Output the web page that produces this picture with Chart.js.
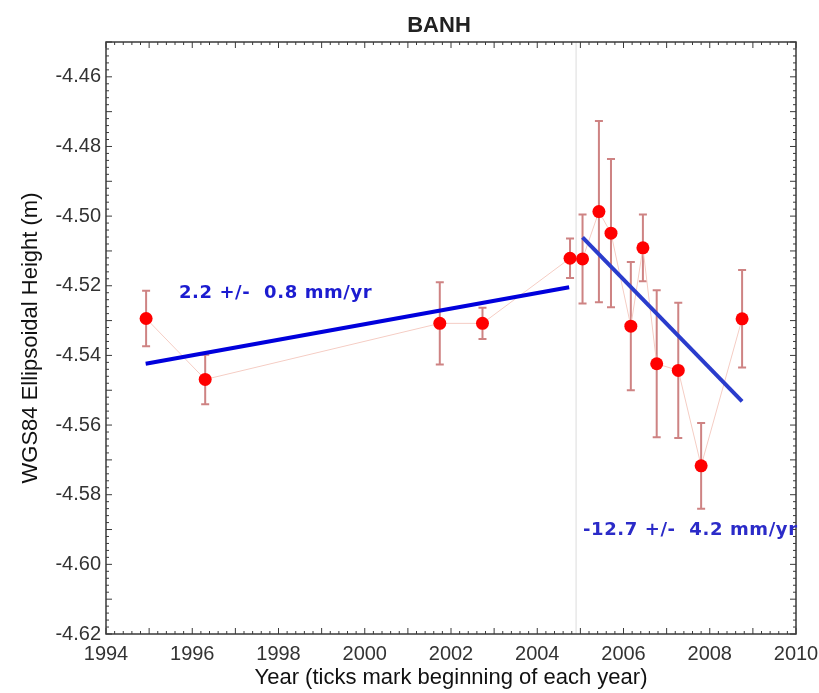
<!DOCTYPE html>
<html>
<head>
<meta charset="utf-8">
<script src="https://cdn.jsdelivr.net/npm/chart.js@4/dist/chart.umd.min.js"></script>
<style>
  body { margin: 0; background: #fff; }
  #wrap { width: 819px; height: 693px; }
</style>
</head>
<body>
<div id="wrap"><canvas id="c"></canvas></div>
<script>
// GPS station BANH, ellipsoidal height time series
var years   = [1994.93, 1996.30, 2001.74, 2002.73, 2004.76, 2005.05, 2005.43, 2005.71, 2006.17, 2006.45, 2006.77, 2007.27, 2007.80, 2008.75];
var heights = [-4.5294, -4.5469, -4.5308, -4.5308, -4.5121, -4.5123, -4.4987, -4.5049, -4.5316, -4.5091, -4.5424, -4.5443, -4.5717, -4.5295];
var errors  = [0.0080, 0.0071, 0.0118, 0.0045, 0.0057, 0.0128, 0.0260, 0.0213, 0.0184, 0.0096, 0.0211, 0.0194, 0.0123, 0.0140];

// fitted velocities before / after the break
var trend1Years = [1994.92, 2004.74];
var trend1Heights = [-4.5424, -4.5204];
var trend2Years = [2005.05, 2008.75];
var trend2Heights = [-4.5061, -4.5532];
var breakYear = 2004.90;

var rate1Label = '2.2 +/-  0.8 mm/yr';
var rate1Pos = [1995.69, -4.5222];
var rate2Label = '-12.7 +/-  4.2 mm/yr';
var rate2Pos = [2005.06, -4.5902];

var xTicks = [1994, 1996, 1998, 2000, 2002, 2004, 2006, 2008, 2010];
var yTicks = [-4.62, -4.60, -4.58, -4.56, -4.54, -4.52, -4.50, -4.48, -4.46];

var FONT = 'Liberation Sans, Arial, sans-serif';

function pts(xs, ys) {
  return xs.map(function(x, i) { return { x: x, y: ys[i] }; });
}

var extras = {
  id: 'extras',
  beforeDatasetsDraw: function(chart) {
    var ctx = chart.ctx, xs = chart.scales.x, ys = chart.scales.y, a = chart.chartArea;
    ctx.save();
    // break line
    var bx = xs.getPixelForValue(breakYear);
    ctx.strokeStyle = '#dcdcdc';
    ctx.lineWidth = 1;
    ctx.beginPath(); ctx.moveTo(bx, a.top); ctx.lineTo(bx, a.bottom); ctx.stroke();
    // error bars
    ctx.strokeStyle = 'rgba(190,90,90,0.75)';
    ctx.lineWidth = 2;
    for (var i = 0; i < years.length; i++) {
      var px = xs.getPixelForValue(years[i]);
      var t = ys.getPixelForValue(heights[i] + errors[i]);
      var b = ys.getPixelForValue(heights[i] - errors[i]);
      ctx.beginPath();
      ctx.moveTo(px, t); ctx.lineTo(px, b);
      ctx.moveTo(px - 4, t); ctx.lineTo(px + 4, t);
      ctx.moveTo(px - 4, b); ctx.lineTo(px + 4, b);
      ctx.stroke();
    }
    ctx.restore();
  },
  afterDatasetsDraw: function(chart) {
    var ctx = chart.ctx, xs = chart.scales.x, ys = chart.scales.y, a = chart.chartArea;
    ctx.save();
    // frame
    ctx.strokeStyle = '#3a3a3a';
    ctx.lineWidth = 1.5;
    ctx.strokeRect(a.left, a.top, a.right - a.left, a.bottom - a.top);
    // inner ticks
    ctx.lineWidth = 1;
    ctx.beginPath();
    for (var k = 0; k <= 80; k++) {
      var yr = 1994 + k * 0.2;
      var x = xs.getPixelForValue(yr);
      var len = (k % 5 === 0) ? 6 : 3;
      ctx.moveTo(x, a.bottom); ctx.lineTo(x, a.bottom - len);
      ctx.moveTo(x, a.top); ctx.lineTo(x, a.top + len);
    }
    for (var j = 0; j <= 85; j++) {
      var v = -4.62 + j * 0.002;
      var y = ys.getPixelForValue(v);
      var l2 = (j % 5 === 0) ? 6 : 3;
      ctx.moveTo(a.left, y); ctx.lineTo(a.left + l2, y);
      ctx.moveTo(a.right, y); ctx.lineTo(a.right - l2, y);
    }
    ctx.stroke();
    // rate labels
    ctx.font = 'bold 18px DejaVu Sans, Verdana, sans-serif';
    ctx.letterSpacing = '0.6px';
    ctx.textBaseline = 'middle';
    ctx.textAlign = 'left';
    ctx.fillStyle = '#1c1cd0';
    ctx.fillText(rate1Label, xs.getPixelForValue(rate1Pos[0]), ys.getPixelForValue(rate1Pos[1]));
    ctx.fillStyle = '#2b2bc8';
    ctx.fillText(rate2Label, xs.getPixelForValue(rate2Pos[0]), ys.getPixelForValue(rate2Pos[1]));
    ctx.letterSpacing = '0px';
    // title
    ctx.font = 'bold 22px ' + FONT;
    ctx.fillStyle = '#222';
    ctx.textAlign = 'center';
    ctx.textBaseline = 'alphabetic';
    ctx.fillText('BANH', 439, 32);
    ctx.restore();
  }
};

new Chart(document.getElementById('c'), {
  type: 'scatter',
  data: {
    datasets: [
      {
        type: 'line',
        order: 3,
        data: pts(years, heights),
        borderColor: '#f5cdc4',
        borderWidth: 1,
        pointRadius: 0,
        tension: 0
      },
      {
        order: 2,
        data: pts(years, heights),
        backgroundColor: '#ff0000',
        borderWidth: 0,
        pointRadius: 6.5
      },
      {
        type: 'line',
        order: 1,
        data: pts(trend1Years, trend1Heights),
        borderColor: '#0000dc',
        borderWidth: 4,
        pointRadius: 0
      },
      {
        type: 'line',
        order: 1,
        data: pts(trend2Years, trend2Heights),
        borderColor: '#2a3ccc',
        borderWidth: 4,
        pointRadius: 0
      }
    ]
  },
  options: {
    responsive: true,
    maintainAspectRatio: false,
    animation: false,
    layout: { padding: { top: 42, right: 23, left: 0, bottom: 0 } },
    plugins: {
      legend: { display: false },
      tooltip: { enabled: false }
    },
    scales: {
      x: {
        type: 'linear',
        min: 1994, max: 2010,
        afterBuildTicks: function(s) { s.ticks = xTicks.map(function(v) { return { value: v }; }); },
        afterFit: function(s) { s.height = 59; s.paddingLeft = 0; s.paddingRight = 0; },
        grid: { display: false, drawTicks: false },
        border: { display: false },
        ticks: {
          padding: 8,
          color: '#333',
          font: { family: FONT, size: 20 },
          callback: function(v) { return String(v); }
        },
        title: {
          display: true,
          text: 'Year (ticks mark beginning of each year)',
          color: '#111',
          font: { family: FONT, size: 22 },
          padding: { top: 0, bottom: 2 }
        }
      },
      y: {
        type: 'linear',
        min: -4.62, max: -4.45,
        afterBuildTicks: function(s) { s.ticks = yTicks.map(function(v) { return { value: v }; }); },
        afterFit: function(s) { s.width = 106; s.paddingTop = 0; s.paddingBottom = 0; },
        grid: { display: false, drawTicks: false },
        border: { display: false },
        ticks: {
          padding: 5,
          color: '#333',
          font: { family: FONT, size: 20 },
          callback: function(v) { return v.toFixed(2); }
        },
        title: {
          display: true,
          text: 'WGS84 Ellipsoidal Height (m)',
          color: '#111',
          font: { family: FONT, size: 22 },
          padding: { top: 18, bottom: 0 }
        }
      }
    }
  },
  plugins: [extras]
});
</script>
</body>
</html>
